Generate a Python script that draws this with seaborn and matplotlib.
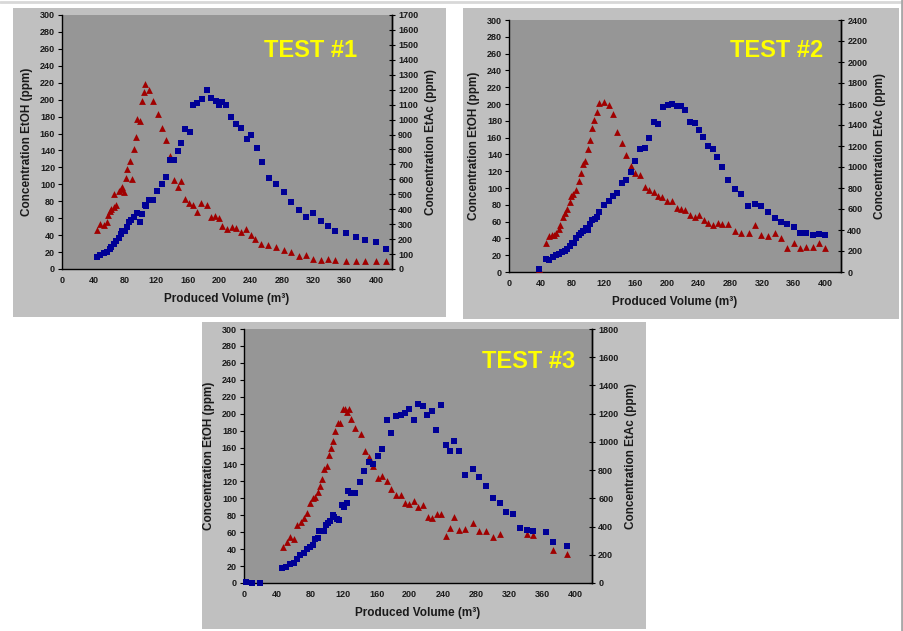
import matplotlib
matplotlib.use("Agg")
import matplotlib.pyplot as plt
from matplotlib.patches import Rectangle
from matplotlib.lines import Line2D
import seaborn as sns

sns.set_style("white")
plt.rcParams["font.family"] = ["Liberation Sans", "DejaVu Sans"]

# ---------------- data ----------------
# TEST #1
t1_etoh_x = [44, 49, 54, 57, 59, 61, 63, 66, 69, 66, 72, 75, 77, 79, 81, 83, 86, 89, 91, 94, 96, 99, 102,
             104, 106, 111, 116, 122, 127, 132, 137, 142, 147, 152, 157, 162, 167, 172, 177, 184, 190, 195,
             200, 203, 210, 216, 222, 228, 234, 240, 246, 253, 262, 272, 282, 291, 301, 310, 320, 329, 338,
             348, 361, 374, 386, 399, 412]
t1_etoh_y = [46, 53, 52, 55, 64, 68, 71, 73, 76, 88, 92, 95, 97, 91, 107, 118, 128, 106, 142, 156, 177, 175,
             198, 209, 218, 212, 198, 183, 167, 152, 134, 105, 97, 104, 83, 78, 76, 67, 78, 76, 61, 63, 60,
             51, 47, 50, 49, 44, 47, 40, 36, 30, 28, 26, 22, 20, 15, 16, 12, 11, 12, 11, 9, 9, 9, 9, 9]
t1_etac_x = [44, 49, 53, 57, 61, 63, 66, 69, 72, 75, 77, 80, 83, 85, 88, 92, 95, 99, 102, 105, 107, 111,
             116, 121, 127, 132, 137, 142, 147, 152, 157, 163, 167, 172, 178, 184, 190, 196, 200, 203, 209,
             215, 222, 228, 235, 241, 248, 254, 263, 272, 282, 291, 301, 310, 320, 329, 339, 348, 361, 374,
             386, 399, 412]
t1_etac_y = [78, 94, 108, 116, 134, 147, 164, 187, 210, 232, 255, 255, 278, 317, 329, 351, 374, 317, 368,
             431, 419, 459, 459, 521, 567, 618, 731, 731, 793, 844, 935, 918, 1099, 1111, 1139, 1196, 1145,
             1122, 1099, 1116, 1099, 1020, 969, 946, 867, 895, 810, 714, 612, 567, 516, 448, 397, 346, 374,
             323, 289, 255, 244, 215, 193, 181, 136]

# TEST #2
t2_etoh_x = [37.5, 47, 51, 54, 57, 60, 63, 65, 68, 71, 73, 77, 79, 81, 85, 88, 91, 94, 96, 100, 102, 105,
             108, 111, 114, 120, 126, 131, 137, 143, 148, 154, 160, 166, 172, 177, 183, 189, 194, 200, 206,
             212, 217, 223, 229, 235, 240, 247, 252, 258, 264, 269, 277, 286, 294, 303, 311, 319, 328, 336,
             344, 352, 360, 368, 376, 384, 392, 400]
t2_etoh_y = [4, 35, 43, 44, 44.5, 46.5, 51, 56, 65, 70, 75, 83, 91, 93, 98, 108, 118, 128, 132, 146, 157,
             172, 181, 190, 201, 202, 199, 188, 167, 154, 139, 126, 118, 115, 101, 98, 95, 91, 89, 84, 84,
             76, 75, 74, 68, 66, 67.5, 62, 58, 56, 58, 57, 57, 49, 46, 46.5, 56, 44.5, 42.5, 46, 40.5, 29,
             34, 28, 30, 30, 35, 28]
t2_etac_x = [37.5, 47, 51, 56, 60, 63, 67, 71, 73, 77, 80, 82, 85, 88, 91, 94, 97, 100, 103, 105, 109, 111,
             114, 120, 126, 131, 137, 143, 148, 154, 160, 166, 172, 177, 183, 189, 195, 201, 206, 212, 217,
             223, 229, 235, 240, 246, 252, 258, 263, 269, 277, 286, 294, 302, 311, 319, 328, 336, 344, 352,
             360, 368, 376, 384, 392, 400]
t2_etac_y = [24, 120, 112, 144, 160, 176, 192, 197, 216, 248, 272, 280, 324, 350, 376, 388, 416, 400, 461,
             496, 509, 528, 572, 636, 672, 725, 757, 848, 880, 952, 1056, 1168, 1184, 1280, 1432, 1408, 1568,
             1592, 1600, 1584, 1584, 1544, 1424, 1416, 1348, 1288, 1200, 1168, 1096, 1000, 872, 788, 744,
             624, 652, 624, 568, 512, 472, 461, 432, 372, 368, 356, 366, 350]

# TEST #3
t3_etoh_x = [47, 52, 56, 60, 64, 69, 72, 76, 80, 83.5, 86, 89, 91.5, 94, 97, 99.6, 102, 105, 107, 110, 113,
             116, 119, 122, 124, 127, 129, 134, 141, 145.6, 151, 156, 162, 167, 172, 177, 183.5, 189, 194,
             199, 205, 210, 216, 222, 227, 233, 238, 243.5, 249, 254, 260, 267, 276, 283.5, 292, 300, 308.5,
             341, 349, 373, 390]
t3_etoh_y = [42, 48, 54, 52, 68, 72.5, 77, 83, 94, 100, 102, 107, 115, 123, 134.5, 138, 151, 160, 168, 180,
             189, 189, 206, 205, 202, 205, 194, 183.5, 176.5, 155.7, 149, 138, 123.5, 126, 120, 110.6, 104,
             104, 95, 93, 97, 90, 92, 78, 77, 82, 81, 56, 65, 78, 63, 64, 70.6, 61.6, 62, 54, 58.4, 57.6,
             56.5, 39, 34]
t3_etac_x = [2, 10, 19, 46, 51, 56, 60, 64.5, 68, 72, 76, 80, 83, 86, 89, 91, 94, 97, 99, 101, 104, 107,
             109, 112, 115, 118, 121, 124, 126, 129, 134, 140, 145, 151, 156, 162, 167, 172, 178, 183.5, 189,
             194, 199, 205, 210, 216, 221, 226.6, 232, 237.5, 243.5, 249, 254, 260, 267, 276, 283.5, 292,
             300, 308.5, 316.5, 324.6, 333, 341, 349, 365, 373, 390]
t3_etac_y = [5, 0, 0, 106, 114, 132, 144, 172, 195, 210, 240, 258, 270, 312, 318, 366, 366, 366, 408, 424,
             438, 480, 466, 454, 447, 552, 540, 570, 654, 636, 636, 714, 792, 858, 840, 900, 948, 1152, 1062,
             1182, 1194, 1206, 1236, 1158, 1266, 1254, 1188, 1218, 1086, 1264, 981, 934, 1008, 934, 768,
             807, 753, 687, 600, 564, 501, 492, 393, 376, 372, 358, 288, 264]

titles = ["TEST #1", "TEST #2", "TEST #3"]
x_ticks = [0, 40, 80, 120, 160, 200, 240, 280, 320, 360, 400]
etoh_ticks = list(range(0, 301, 20))
etac_ticks = [list(range(0, 1701, 100)), list(range(0, 2401, 200)), list(range(0, 1801, 200))]

# ---------------- layout (pixels) ----------------
W, H = 904, 631
fig = plt.figure(figsize=(W / 100, H / 100), dpi=100)
fig.patch.set_facecolor("white")


def frac(x0, y0, x1, y1):
    return [x0 / W, 1 - y1 / H, (x1 - x0) / W, (y1 - y0) / H]


panels = [(13, 8, 446, 317), (463, 8, 899, 319), (202, 322, 646, 629)]
plots = [(62, 15, 392, 269), (509, 20, 841, 272), (244, 329, 592, 583)]
title_pos = [(0.894, 0.835), (0.946, 0.853), (0.951, 0.847)]

for (x0, y0, x1, y1) in panels:
    r = frac(x0, y0, x1, y1)
    fig.patches.append(Rectangle((r[0], r[1]), r[2], r[3], transform=fig.transFigure,
                                 facecolor="#C0C0C0", edgecolor="none", zorder=-10))
fig.lines.append(Line2D([0, 1], [1 - 1.5 / H, 1 - 1.5 / H], transform=fig.transFigure,
                        color="#D8D8D8", lw=2, zorder=-10))
fig.lines.append(Line2D([1 - 1.5 / W, 1 - 1.5 / W], [0, 1], transform=fig.transFigure,
                        color="#A8A8A8", lw=2, zorder=-10))

data = [(t1_etoh_x, t1_etoh_y, t1_etac_x, t1_etac_y),
        (t2_etoh_x, t2_etoh_y, t2_etac_x, t2_etac_y),
        (t3_etoh_x, t3_etoh_y, t3_etac_x, t3_etac_y)]

red = "#A00000"
blue = "#000096"
tick_font = dict(fontsize=6.5, fontweight="bold", color="#1a1a1a")
label_font = dict(fontsize=8.5, fontweight="bold", color="#1a1a1a")

for i, (ex, ey, ax_, ay) in enumerate(data):
    ax = fig.add_axes(frac(*plots[i]))
    ax.set_zorder(1)
    ax.set_facecolor("#969696")
    ax2 = ax.twinx()
    ax2.set_zorder(2)
    ax2.patch.set_visible(False)

    sns.scatterplot(x=ex, y=ey, marker="^", color=red, s=24, linewidth=0, ax=ax, clip_on=False, zorder=3)
    sns.scatterplot(x=ax_, y=ay, marker="s", color=blue, s=18, linewidth=0, ax=ax2, clip_on=False, zorder=3)

    ax.set_xlim(0, 420)
    ax.set_ylim(0, 300)
    ax2.set_ylim(0, etac_ticks[i][-1])
    ax.set_xticks(x_ticks)
    ax.set_yticks(etoh_ticks)
    ax2.set_yticks(etac_ticks[i])
    ax.set_xticklabels([str(v) for v in x_ticks], **tick_font)
    ax.set_yticklabels([str(v) for v in etoh_ticks], **tick_font)
    ax2.set_yticklabels([str(v) for v in etac_ticks[i]], **tick_font)

    for a in (ax, ax2):
        a.spines["top"].set_visible(False)
        for s in ("left", "right", "bottom"):
            a.spines[s].set_color("black")
            a.spines[s].set_linewidth(1)
        a.grid(False)
    ax2.spines["left"].set_visible(False)
    ax2.spines["bottom"].set_visible(False)
    ax.tick_params(axis="both", direction="out", length=3, width=0.8, color="black", pad=2)
    ax2.tick_params(axis="y", direction="inout", length=5, width=0.8, color="black", pad=2)

    ax.set_xlabel("Produced Volume (m³)", labelpad=6, **label_font)
    ax.set_ylabel("Concentration EtOH (ppm)", labelpad=5, **label_font)
    ax2.set_ylabel("Concentration EtAc (ppm)", labelpad=5, **label_font)

    tx, ty = title_pos[i]
    ax.text(tx, ty, titles[i], transform=ax.transAxes, ha="right", va="baseline",
            fontsize=17, fontweight="bold", color="#FFFF00", zorder=5)

fig.savefig("out.png", dpi=100, facecolor="white")
